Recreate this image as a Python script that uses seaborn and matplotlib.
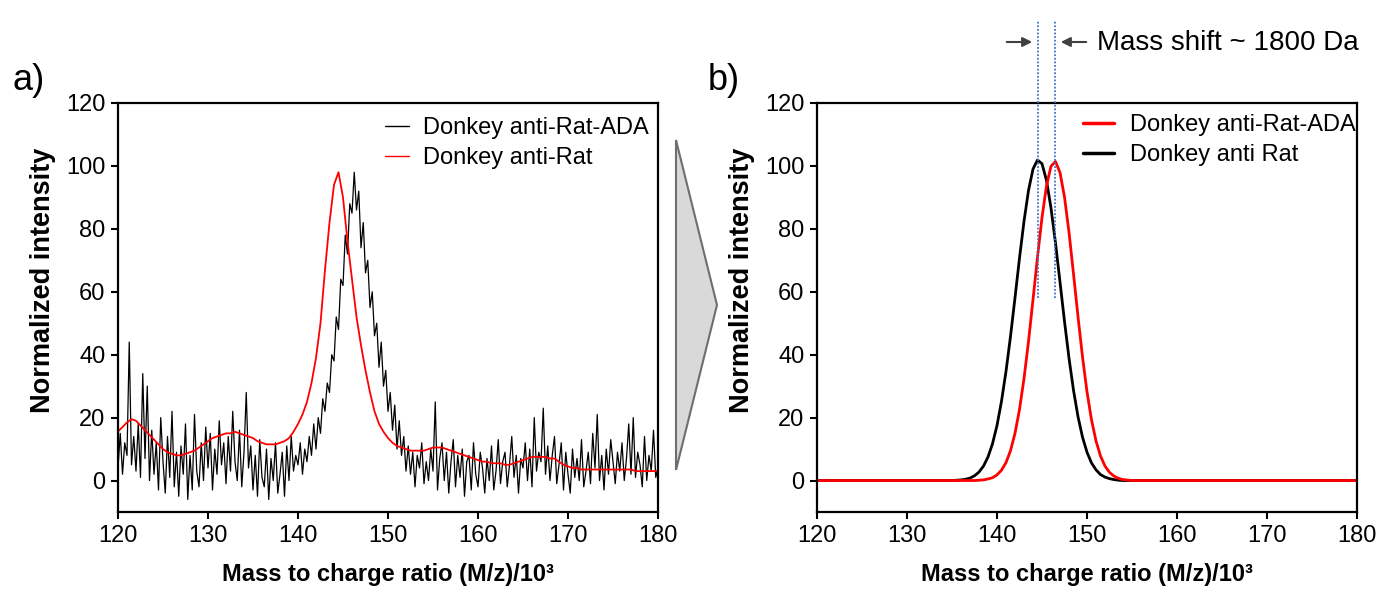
import numpy as np
import pandas as pd
import seaborn as sns
import matplotlib.pyplot as plt
from matplotlib.patches import Polygon, FancyArrowPatch

# ---------------- data ----------------
# panel a) raw spectra
mz_raw_black = np.arange(120, 180.001, 0.25)
ada_raw = [
    4, 15, 2, 12, 8, 44, 5, 14, 3, 18, 1, 34, 7, 30, 0, 16, 2, 12, -3, 20,
    6, -4, 14, 1, 22, -2, 9, -5, 11, 2, 18, -6, 8, -3, 21, 3, -2, 12, 0, 17,
    4, 15, -3, 10, 2, 19, 5, 12, -1, 14, 3, 22, 6, 0, 16, -2, 9, 28, 4, 11,
    -3, 8, -5, 13, 1, -2, 10, -6, 7, 0, 12, -4, 2, 9, -5, 11, 0, 14, 3, 8,
    5, 12, 2, 10, 6, 14, 8, 18, 10, 20, 15, 26, 22, 31, 28, 40, 38, 52, 48, 64,
    62, 78, 72, 88, 85, 98, 86, 92, 74, 82, 66, 70, 55, 60, 46, 50, 36, 44, 30, 35,
    22, 28, 16, 24, 10, 19, 8, 14, 3, 11, 2, 9, -2, 8, 4, 12, -1, 6, 0, 10,
    3, 25, -3, 7, 12, 0, 9, -4, 6, 13, -2, 8, 1, 10, -5, 6, 8, -3, 12, 2,
    -2, 9, 4, -4, 7, 0, 11, -3, 3, 13, -1, 6, 9, -2, 5, 14, 1, 8, -4, 7,
    4, 12, 0, 10, -2, 20, 3, 9, 6, 23, 2, 11, 0, 8, 14, -1, 5, 12, -3, 9,
    2, -4, 10, 1, 7, 0, 13, -2, 3, 9, -1, 15, 4, 21, 0, 8, -3, 10, 2, 13,
    6, -1, 9, 3, 12, 0, 7, 18, 2, 20, 1, 9, 5, -2, 14, 0, 8, 3, 16, 1,
    4,
]
mz_raw_red = np.arange(120, 180.001, 0.5)
rat_raw = [
    15.6, 17, 18.5, 19.5, 19, 17.5, 16, 14.5, 13, 11.5,
    10, 9, 8.5, 8, 8, 8.5, 9, 9.5, 10.5, 11.5,
    12.5, 13.5, 14, 14.5, 15, 15, 15.5, 15, 14.5, 14,
    13.5, 12.5, 12, 11.5, 11.5, 11.5, 12, 12.5, 13.5, 15.5,
    18, 21, 25, 31, 39, 50, 67, 82, 94, 98,
    90, 76, 64, 52, 43, 35, 28, 22, 18, 15.5,
    13.5, 12, 11, 10.5, 10, 9.5, 9.5, 9.5, 9.5, 10,
    10.5, 10.5, 10.5, 10, 9.5, 9, 8.5, 8, 7.5, 7,
    6.5, 6, 6, 5.5, 5.5, 5.5, 5, 5, 5.5, 6,
    6.5, 7, 7.5, 7.5, 7.5, 7.5, 7, 7, 6, 5,
    4.5, 4, 4, 3.5, 3.5, 3.5, 3.5, 3.5, 3.5, 3.5,
    3.5, 3.5, 3.5, 3.5, 3.5, 3, 3, 3, 3, 3,
    3,
]

# panel b) fitted curves
mz_fit = [120] + list(np.arange(134, 156.001, 0.5)) + [180]
ada_fit = [0,
    0, 0, 0, 0, 0, 0, 0, 0, 0.1, 0.2,
    0.5, 0.9, 1.8, 3.3, 5.7, 9.5, 15.0, 22.6, 32.4, 44.2,
    57.5, 71.0, 83.6, 93.7, 99.9, 101.4, 97.9, 90.1, 78.9, 65.7,
    52.1, 39.3, 28.2, 19.3, 12.6, 7.8, 4.6, 2.6, 1.4, 0.7,
    0.3, 0.15, 0, 0, 0,
    0]
rat_fit = [0,
    0, 0, 0, 0.1, 0.2, 0.4, 0.8, 1.5, 2.7, 4.6,
    7.5, 11.7, 17.5, 25.2, 34.7, 45.8, 58.1, 70.7, 82.4, 92.2,
    99.0, 101.9, 100.7, 95.4, 86.6, 75.5, 63.1, 50.6, 38.9, 28.7,
    20.3, 13.8, 9.0, 5.6, 3.4, 1.9, 1.1, 0.6, 0.3, 0.1,
    0, 0, 0, 0, 0,
    0]
shift_lines = [144.55, 146.4]

xticks = [120, 130, 140, 150, 160, 170, 180]
yticks = [0, 20, 40, 60, 80, 100, 120]

# ---------------- figure ----------------
sns.set_style('ticks')
plt.rcParams['font.family'] = ['Liberation Sans', 'DejaVu Sans']
plt.rcParams['text.color'] = 'black'
plt.rcParams['axes.labelcolor'] = 'black'
plt.rcParams['xtick.color'] = 'black'
plt.rcParams['ytick.color'] = 'black'

W, H = 1383, 593
fig = plt.figure(figsize=(W / 100, H / 100), dpi=100)


def fx(px):
    return px / W


def fy(py):
    return 1 - py / H


axL = fig.add_axes([fx(118), fy(512), 540 / W, 409 / H])
axR = fig.add_axes([fx(817), fy(512), 540 / W, 409 / H])

# panel a
sns.lineplot(x=mz_raw_black, y=ada_raw, ax=axL, color='black', lw=0.9,
             estimator=None, sort=False, label='Donkey anti-Rat-ADA')
sns.lineplot(x=mz_raw_red, y=rat_raw, ax=axL, color='#ff0000', lw=1.3,
             estimator=None, sort=False, label='Donkey anti-Rat')
legL = axL.legend(loc='upper left', bbox_to_anchor=(fx(385), fy(117)),
                  bbox_transform=fig.transFigure, frameon=False, fontsize=17,
                  handlelength=1.0, handletextpad=0.6, borderpad=0,
                  borderaxespad=0, labelspacing=0.33)
for h in legL.get_lines():
    h.set_linewidth(1.0)

# panel b
sns.lineplot(x=mz_fit, y=rat_fit, ax=axR, color='black', lw=2.0,
             estimator=None, sort=False)
sns.lineplot(x=mz_fit, y=ada_fit, ax=axR, color='#ff0000', lw=2.0,
             estimator=None, sort=False)
hR = [plt.Line2D([], [], color='#ff0000', lw=2.5),
      plt.Line2D([], [], color='black', lw=2.5)]
axR.legend(hR, ['Donkey anti-Rat-ADA', 'Donkey anti Rat'], loc='upper left',
           bbox_to_anchor=(fx(1083), fy(114)), bbox_transform=fig.transFigure,
           frameon=False, fontsize=17, handlelength=1.3, handletextpad=0.7,
           borderpad=0, borderaxespad=0, labelspacing=0.33)

for xv in shift_lines:
    axR.plot([xv, xv], [58, 146], ls=(0, (1, 1)), color='#4472c4', lw=1.3,
             clip_on=False, zorder=5)

for ax in (axL, axR):
    ax.set_xlim(120, 180)
    ax.set_ylim(-10, 120)
    ax.set_xticks(xticks)
    ax.set_yticks(yticks)
    for s in ax.spines.values():
        s.set_visible(True)
        s.set_linewidth(1.6)
        s.set_color('black')
    ax.tick_params(direction='out', length=5, width=1.5, labelsize=17,
                   pad=4, colors='black')
    ax.set_xlabel('Mass to charge ratio (M/z)/10³', fontsize=17,
                  fontweight='bold')
    ax.set_ylabel('Normalized intensity', fontsize=19.5, fontweight='bold')
    ax.xaxis.set_label_coords(0.5, -0.125)
    ax.yaxis.set_label_coords(-0.115, 0.567)

# grey triangle arrow between panels
tri = Polygon([(fx(676), fy(140)), (fx(676), fy(470)), (fx(717), fy(305))],
              closed=True, transform=fig.transFigure, facecolor='#d9d9d9',
              edgecolor='#6e6e6e', lw=1.5)
fig.add_artist(tri)

# mass-shift annotation
fig.add_artist(FancyArrowPatch(
    (fx(1004), fy(42)), (fx(1035), fy(42)), transform=fig.transFigure,
    arrowstyle='-|>', mutation_scale=14, color='#404040', lw=1.5))
fig.add_artist(FancyArrowPatch(
    (fx(1089), fy(42)), (fx(1058), fy(42)), transform=fig.transFigure,
    arrowstyle='-|>', mutation_scale=14, color='#404040', lw=1.5))
fig.text(fx(1097), fy(43), 'Mass shift ~ 1800 Da', fontsize=20,
         ha='left', va='center')

fig.text(fx(12), fy(80), 'a)', fontsize=26, ha='left', va='center')
fig.text(fx(708), fy(80), 'b)', fontsize=26, ha='left', va='center')

fig.savefig('out.png', dpi=100)
